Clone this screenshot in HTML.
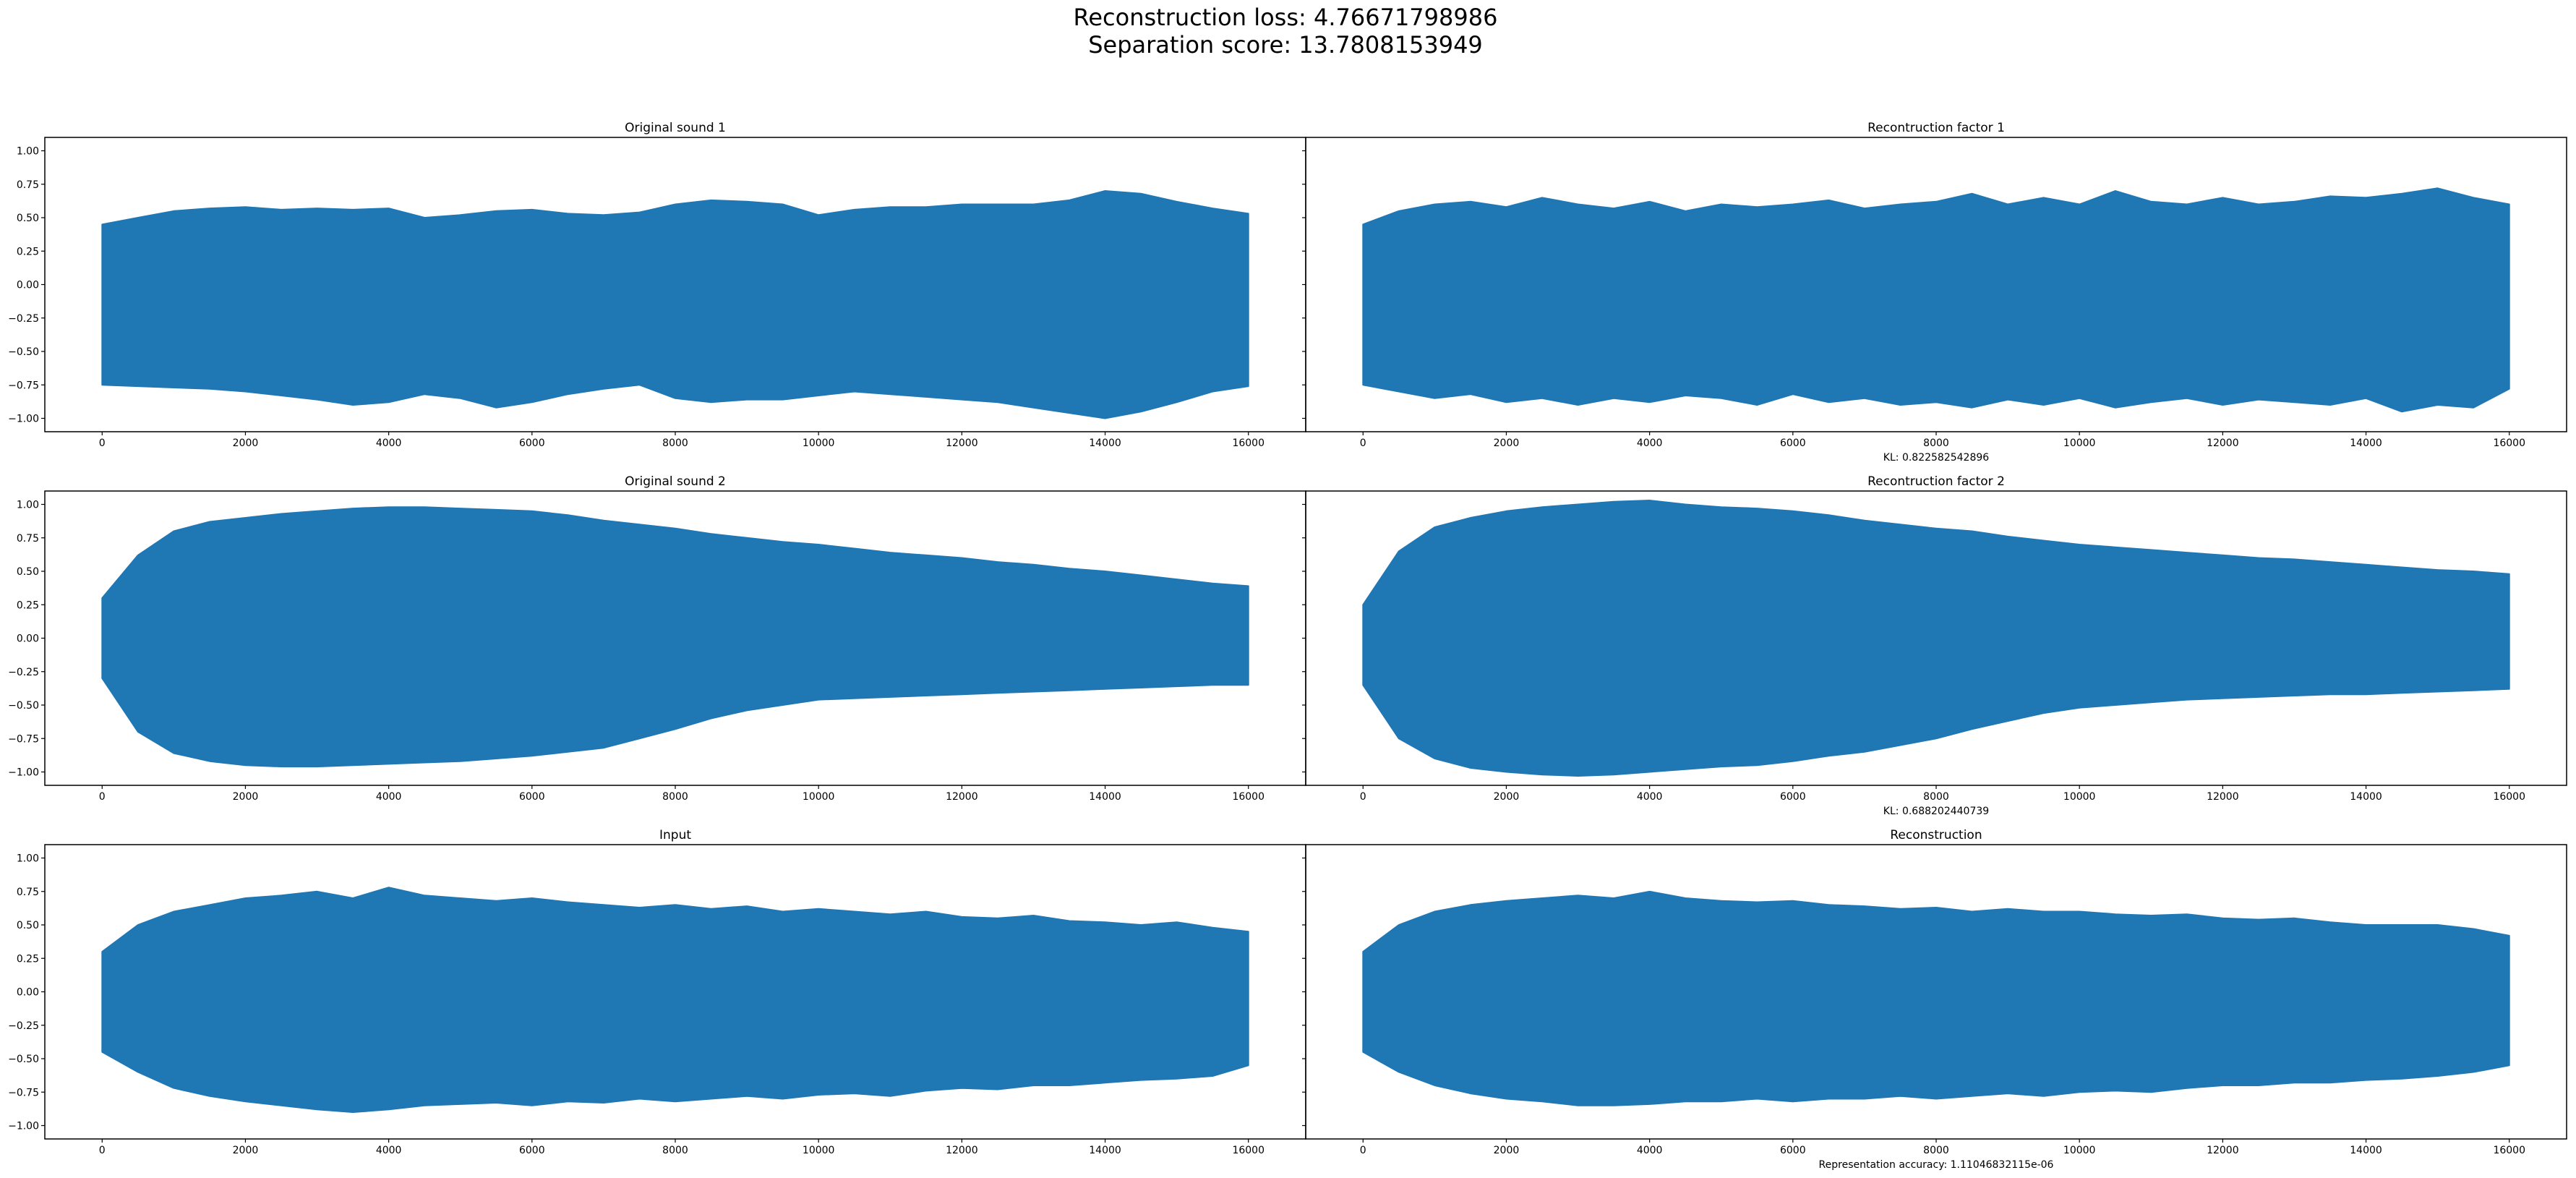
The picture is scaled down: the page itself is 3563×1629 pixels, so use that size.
<!DOCTYPE html>
<html><head><meta charset="utf-8"><style>
html,body{margin:0;padding:0;background:#fff;}
svg{display:block;font-family:"DejaVu Sans","Liberation Sans",sans-serif;}
</style></head><body>
<svg id="fig" width="3563" height="1629" viewBox="0 0 3563 1629" xmlns="http://www.w3.org/2000/svg">
<rect width="3563" height="1629" fill="#fff"/>
<text x="1778" y="35" font-size="32" text-anchor="middle">Reconstruction loss: 4.76671798986</text>
<text x="1778" y="73" font-size="32" text-anchor="middle">Separation score: 13.7808153949</text>
</svg>
<script>
const xTicks=[0,2000,4000,6000,8000,10000,12000,14000,16000];
const yTicks=[1.0,0.75,0.5,0.25,0.0,-0.25,-0.5,-0.75,-1.0];
const yTickLabels=["1.00","0.75","0.50","0.25","0.00","\u22120.25","\u22120.50","\u22120.75","\u22121.00"];
const sampleStep=500;
const s1Upper=[0.45,0.5,0.55,0.57,0.58,0.56,0.57,0.56,0.57,0.5,0.52,0.55,0.56,0.53,0.52,0.54,0.6,0.63,0.62,0.6,0.52,0.56,0.58,0.58,0.6,0.6,0.6,0.63,0.7,0.68,0.62,0.57,0.53];
const s1Lower=[-0.75,-0.76,-0.77,-0.78,-0.8,-0.83,-0.86,-0.9,-0.88,-0.82,-0.85,-0.92,-0.88,-0.82,-0.78,-0.75,-0.85,-0.88,-0.86,-0.86,-0.83,-0.8,-0.82,-0.84,-0.86,-0.88,-0.92,-0.96,-1.0,-0.95,-0.88,-0.8,-0.76];
const r1Upper=[0.45,0.55,0.6,0.62,0.58,0.65,0.6,0.57,0.62,0.55,0.6,0.58,0.6,0.63,0.57,0.6,0.62,0.68,0.6,0.65,0.6,0.7,0.62,0.6,0.65,0.6,0.62,0.66,0.65,0.68,0.72,0.65,0.6];
const r1Lower=[-0.75,-0.8,-0.85,-0.82,-0.88,-0.85,-0.9,-0.85,-0.88,-0.83,-0.85,-0.9,-0.82,-0.88,-0.85,-0.9,-0.88,-0.92,-0.86,-0.9,-0.85,-0.92,-0.88,-0.85,-0.9,-0.86,-0.88,-0.9,-0.85,-0.95,-0.9,-0.92,-0.78];
const s2Upper=[0.3,0.62,0.8,0.87,0.9,0.93,0.95,0.97,0.98,0.98,0.97,0.96,0.95,0.92,0.88,0.85,0.82,0.78,0.75,0.72,0.7,0.67,0.64,0.62,0.6,0.57,0.55,0.52,0.5,0.47,0.44,0.41,0.39];
const s2Lower=[-0.3,-0.7,-0.86,-0.92,-0.95,-0.96,-0.96,-0.95,-0.94,-0.93,-0.92,-0.9,-0.88,-0.85,-0.82,-0.75,-0.68,-0.6,-0.54,-0.5,-0.46,-0.45,-0.44,-0.43,-0.42,-0.41,-0.4,-0.39,-0.38,-0.37,-0.36,-0.35,-0.35];
const r2Upper=[0.25,0.65,0.83,0.9,0.95,0.98,1.0,1.02,1.03,1.0,0.98,0.97,0.95,0.92,0.88,0.85,0.82,0.8,0.76,0.73,0.7,0.68,0.66,0.64,0.62,0.6,0.59,0.57,0.55,0.53,0.51,0.5,0.48];
const r2Lower=[-0.35,-0.75,-0.9,-0.97,-1.0,-1.02,-1.03,-1.02,-1.0,-0.98,-0.96,-0.95,-0.92,-0.88,-0.85,-0.8,-0.75,-0.68,-0.62,-0.56,-0.52,-0.5,-0.48,-0.46,-0.45,-0.44,-0.43,-0.42,-0.42,-0.41,-0.4,-0.39,-0.38];
const inUpper=[0.3,0.5,0.6,0.65,0.7,0.72,0.75,0.7,0.78,0.72,0.7,0.68,0.7,0.67,0.65,0.63,0.65,0.62,0.64,0.6,0.62,0.6,0.58,0.6,0.56,0.55,0.57,0.53,0.52,0.5,0.52,0.48,0.45];
const inLower=[-0.45,-0.6,-0.72,-0.78,-0.82,-0.85,-0.88,-0.9,-0.88,-0.85,-0.84,-0.83,-0.85,-0.82,-0.83,-0.8,-0.82,-0.8,-0.78,-0.8,-0.77,-0.76,-0.78,-0.74,-0.72,-0.73,-0.7,-0.7,-0.68,-0.66,-0.65,-0.63,-0.55];
const recUpper=[0.3,0.5,0.6,0.65,0.68,0.7,0.72,0.7,0.75,0.7,0.68,0.67,0.68,0.65,0.64,0.62,0.63,0.6,0.62,0.6,0.6,0.58,0.57,0.58,0.55,0.54,0.55,0.52,0.5,0.5,0.5,0.47,0.42];
const recLower=[-0.45,-0.6,-0.7,-0.76,-0.8,-0.82,-0.85,-0.85,-0.84,-0.82,-0.82,-0.8,-0.82,-0.8,-0.8,-0.78,-0.8,-0.78,-0.76,-0.78,-0.75,-0.74,-0.75,-0.72,-0.7,-0.7,-0.68,-0.68,-0.66,-0.65,-0.63,-0.6,-0.55];

const NS="http://www.w3.org/2000/svg";
const svg=document.getElementById('fig');
function mk(tag,attrs,parent){const e=document.createElementNS(NS,tag);for(const k in attrs)e.setAttribute(k,attrs[k]);(parent||svg).appendChild(e);return e;}

const panels=[
 {name:'original-sound-1',title:'Original sound 1',x0:62,x1:1806,y0:190,up:s1Upper,lo:s1Lower,labels:true,note:null},
 {name:'reconstruction-factor-1',title:'Recontruction factor 1',x0:1806,x1:3550,y0:190,up:r1Upper,lo:r1Lower,labels:false,note:'KL: 0.822582542896'},
 {name:'original-sound-2',title:'Original sound 2',x0:62,x1:1806,y0:679,up:s2Upper,lo:s2Lower,labels:true,note:null},
 {name:'reconstruction-factor-2',title:'Recontruction factor 2',x0:1806,x1:3550,y0:679,up:r2Upper,lo:r2Lower,labels:false,note:'KL: 0.688202440739'},
 {name:'input',title:'Input',x0:62,x1:1806,y0:1168,up:inUpper,lo:inLower,labels:true,note:null},
 {name:'reconstruction',title:'Reconstruction',x0:1806,x1:3550,y0:1168,up:recUpper,lo:recLower,labels:false,note:'Representation accuracy: 1.11046832115e-06'}
];
const H=407;
panels.forEach(p=>{
  const g=mk('g',{});
  
  
  const W=p.x1-p.x0;
  const xmin=-800,xmax=16800;
  const sx=v=>p.x0+(v-xmin)/(xmax-xmin)*W;
  const sy=v=>p.y0+(1.1-v)/2.2*H;
  // waveform envelope
  let pts=[];
  p.up.forEach((v,i)=>pts.push(sx(i*sampleStep).toFixed(1)+','+sy(v).toFixed(1)));
  for(let i=p.lo.length-1;i>=0;i--)pts.push(sx(i*sampleStep).toFixed(1)+','+sy(p.lo[i]).toFixed(1));
  const poly=mk('polygon',{points:pts.join(' '),fill:'#1f77b4',stroke:'#1f77b4','stroke-width':2,'stroke-linejoin':'round'},g);
  
  
  // frame
  const fr=mk('rect',{x:p.x0,y:p.y0,width:W,height:H,fill:'none',stroke:'#000','stroke-width':1.5},g);
  
  
  // x ticks
  xTicks.forEach(t=>{
    const x=sx(t);
    mk('line',{x1:x,x2:x,y1:p.y0+H,y2:p.y0+H+5,stroke:'#000','stroke-width':1.2},g);
    const tl=mk('text',{x:x,y:p.y0+H+20,'font-size':14,'text-anchor':'middle'},g);
    tl.textContent=String(t);
    
    
  });
  // y ticks
  yTicks.forEach((t,i)=>{
    const y=sy(t);
    mk('line',{x1:p.x0-5,x2:p.x0,y1:y,y2:y,stroke:'#000','stroke-width':1.2},g);
    if(p.labels){
      const tl=mk('text',{x:p.x0-8,y:y+5,'font-size':14,'text-anchor':'end'},g);
      tl.textContent=yTickLabels[i];
      
      
    }
  });
  const tt=mk('text',{x:(p.x0+p.x1)/2,y:p.y0-8,'font-size':17,'text-anchor':'middle'},g);
  tt.textContent=p.title;
  
  
  if(p.note){
    const nt=mk('text',{x:(p.x0+p.x1)/2,y:p.y0+H+40,'font-size':14,'text-anchor':'middle'},g);
    nt.textContent=p.note;
    
    
  }
});
</script>
</body></html>
